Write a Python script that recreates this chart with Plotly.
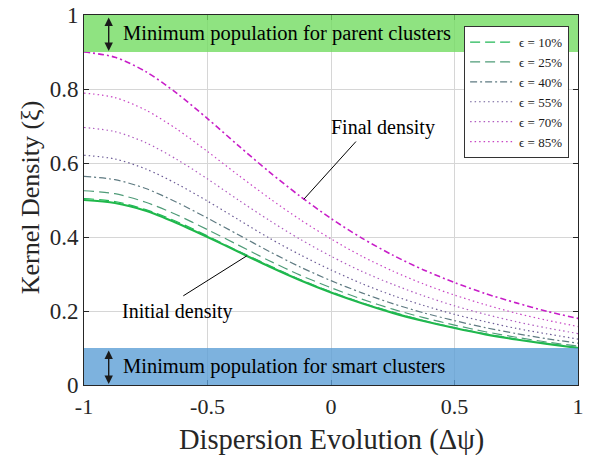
import plotly.graph_objects as go

# Sample positions along the dispersion axis (step 0.125)
x_vals = [-1.0, -0.875, -0.75, -0.625, -0.5, -0.375, -0.25, -0.125, 0.0,
          0.125, 0.25, 0.375, 0.5, 0.625, 0.75, 0.875, 1.0]

# Kernel density readings for each curve
initial_density = [0.500, 0.492, 0.471, 0.438, 0.400, 0.360, 0.320, 0.283, 0.250,
                   0.221, 0.195, 0.173, 0.154, 0.137, 0.123, 0.111, 0.100]
eps_10 = [0.504, 0.496, 0.474, 0.442, 0.403, 0.362, 0.323, 0.285, 0.252,
          0.222, 0.197, 0.174, 0.155, 0.138, 0.124, 0.112, 0.101]
eps_25 = [0.525, 0.517, 0.494, 0.460, 0.420, 0.378, 0.336, 0.297, 0.263,
          0.232, 0.205, 0.182, 0.162, 0.144, 0.129, 0.116, 0.105]
eps_40 = [0.564, 0.555, 0.531, 0.494, 0.451, 0.406, 0.361, 0.319, 0.282,
          0.249, 0.220, 0.195, 0.174, 0.155, 0.139, 0.125, 0.113]
eps_55 = [0.621, 0.611, 0.584, 0.544, 0.497, 0.447, 0.397, 0.352, 0.311,
          0.274, 0.242, 0.215, 0.191, 0.171, 0.153, 0.138, 0.124]
eps_70 = [0.696, 0.685, 0.655, 0.610, 0.557, 0.500, 0.445, 0.394, 0.348,
          0.307, 0.272, 0.241, 0.214, 0.191, 0.171, 0.154, 0.139]
eps_85 = [0.789, 0.777, 0.743, 0.692, 0.631, 0.567, 0.505, 0.447, 0.395,
          0.348, 0.308, 0.273, 0.243, 0.217, 0.194, 0.175, 0.158]
final_density = [0.900, 0.886, 0.847, 0.789, 0.720, 0.647, 0.576, 0.510, 0.450,
                 0.397, 0.351, 0.311, 0.277, 0.247, 0.222, 0.199, 0.180]

legend_labels = ["ϵ = 10%", "ϵ = 25%", "ϵ = 40%", "ϵ = 55%", "ϵ = 70%", "ϵ = 85%"]

x_ticks = [-1, -0.5, 0, 0.5, 1]
x_tick_text = ["-1", "-0.5", "0", "0.5", "1"]
y_ticks = [0, 0.2, 0.4, 0.6, 0.8, 1]
y_tick_text = ["0", "0.2", "0.4", "0.6", "0.8", "1"]

parent_threshold = 0.9
smart_threshold = 0.1

FONT = "Liberation Serif"
SMOOTH = dict(shape="spline", smoothing=0.8)

fig = go.Figure()

# Initial density (solid, not in legend)
fig.add_trace(go.Scatter(
    x=x_vals, y=initial_density, mode="lines", showlegend=False,
    line=dict(color="#1fb84a", width=2.2, **SMOOTH),
))

eps_series = [eps_10, eps_25, eps_40, eps_55, eps_70, eps_85]
eps_colors = ["#22b857", "#4f9c78", "#5f7b82", "#6e5e98", "#b05cc0", "#c844c4"]
eps_dash = ["10px,5px", "10px,5px", "7px,3px,2px,3px",
            "1.5px,3px", "1.5px,3px", "1.5px,3px"]

for i, (series, label) in enumerate(zip(eps_series, legend_labels)):
    fig.add_trace(go.Scatter(
        x=x_vals, y=series, mode="lines", name=label,
        line=dict(color=eps_colors[i], width=1.2, dash=eps_dash[i], **SMOOTH),
    ))

# Final density (dash-dot, not in legend)
fig.add_trace(go.Scatter(
    x=x_vals, y=final_density, mode="lines", showlegend=False,
    line=dict(color="#c81ec8", width=1.6, dash="6px,3px,2px,3px", **SMOOTH),
))

# Population threshold bands
fig.add_shape(type="rect", xref="x", yref="y", x0=-1, x1=1,
              y0=parent_threshold, y1=1, layer="above",
              fillcolor="rgba(115,220,98,0.8)", line=dict(width=0))
fig.add_shape(type="rect", xref="x", yref="y", x0=-1, x1=1,
              y0=0, y1=smart_threshold, layer="above",
              fillcolor="rgba(93,159,214,0.8)", line=dict(width=0))

# Pointer lines for the density labels
fig.add_shape(type="line", xref="x", yref="y", x0=-0.11, y0=0.502, x1=0.101, y1=0.658,
              line=dict(color="black", width=1))
fig.add_shape(type="line", xref="x", yref="y", x0=-0.341, y0=0.349, x1=-0.598, y1=0.241,
              line=dict(color="black", width=1))

annotations = [
    dict(x=-0.85, y=0.95, text="Minimum population for parent clusters",
         xanchor="left", yanchor="middle", showarrow=False,
         font=dict(family=FONT, size=20.5, color="black")),
    dict(x=-0.85, y=0.05, text="Minimum population for smart clusters",
         xanchor="left", yanchor="middle", showarrow=False,
         font=dict(family=FONT, size=20.5, color="black")),
    dict(x=0.211, y=0.697, text="Final density", showarrow=False,
         xanchor="center", yanchor="middle",
         font=dict(family=FONT, size=20, color="black")),
    dict(x=-0.621, y=0.198, text="Initial density", showarrow=False,
         xanchor="center", yanchor="middle",
         font=dict(family=FONT, size=20, color="black")),
    # Axis titles
    dict(x=0.5, y=-0.1486, xref="paper", yref="paper", showarrow=False,
         text="Dispersion Evolution (Δψ)", xanchor="center", yanchor="middle",
         font=dict(family=FONT, size=28.5, color="#262626")),
    dict(x=-0.109, y=0.508, xref="paper", yref="paper", showarrow=False,
         text="Kernel Density (ξ)", textangle=-90,
         xanchor="center", yanchor="middle",
         font=dict(family=FONT, size=26, color="#262626")),
]

# Double-headed arrows spanning each band
for lo, hi in [(parent_threshold, 1.0), (0.0, smart_threshold)]:
    annotations.append(dict(
        x=-0.9, y=lo + 0.003, ax=-0.9, ay=hi - 0.003, axref="x", ayref="y",
        text="", showarrow=True, arrowside="end+start", arrowhead=2,
        arrowsize=1.2, arrowwidth=1.4, arrowcolor="#1a1a1a", standoff=0,
        startstandoff=0, startarrowhead=2, startarrowsize=1.2,
        font=dict(size=1),
    ))

fig.update_layout(
    width=595, height=455,
    margin=dict(l=84, r=17, t=15, b=70),
    paper_bgcolor="white", plot_bgcolor="white",
    font=dict(family=FONT, color="#262626"),
    annotations=annotations,
    legend=dict(
        x=0.982, y=0.97, xanchor="right", yanchor="top",
        bgcolor="white", bordercolor="#333333", borderwidth=1,
        font=dict(family=FONT, size=13, color="#1a1a1a"),
        tracegroupgap=0, itemwidth=44,
    ),
    xaxis=dict(
        range=[-1, 1], tickvals=x_ticks, ticktext=x_tick_text,
        automargin=False,
        showgrid=True, gridcolor="#d6d6d6", gridwidth=1,
        zeroline=False, showline=True, linecolor="#262626", linewidth=1,
        mirror="ticks", ticks="inside", ticklen=5, tickcolor="#262626",
        ticklabelstandoff=2,
        tickfont=dict(family=FONT, size=22, color="#262626"),
    ),
    yaxis=dict(
        range=[0, 1], tickvals=y_ticks, ticktext=y_tick_text,
        automargin=False,
        showgrid=True, gridcolor="#d6d6d6", gridwidth=1,
        zeroline=False, showline=True, linecolor="#262626", linewidth=1,
        mirror="ticks", ticks="inside", ticklen=5, tickcolor="#262626",
        tickfont=dict(family=FONT, size=23, color="#262626"),
    ),
)

fig.write_html("out.html")
